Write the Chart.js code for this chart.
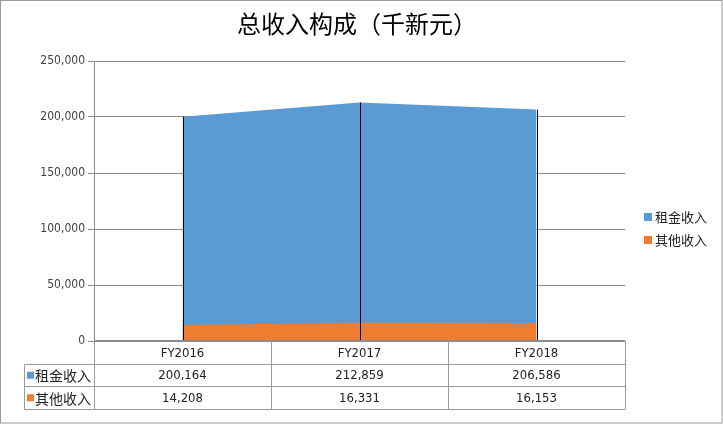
<!DOCTYPE html>
<html>
<head>
<meta charset="utf-8">
<script src="https://cdn.jsdelivr.net/npm/chart.js@4.4.1/dist/chart.umd.min.js"></script>
<style>
  html, body { margin: 0; padding: 0; background: #fff; }
  #c { display: block; }
</style>
</head>
<body>
<canvas id="c" width="723" height="424"></canvas>
<script>
// data
const years = ["FY2016", "FY2017", "FY2018"];
const rentIncome = [200164, 212859, 206586];
const otherIncome = [14208, 16331, 16153];
const seriesNames = ["租金收入", "其他收入"];
const seriesColors = ["#5B9BD5", "#ED7D31"];
const titleText = "总收入构成（千新元）";

const numFont = "'DejaVu Sans Condensed', 'Liberation Sans', sans-serif";
const cjkFont = "'Noto Sans CJK SC', sans-serif";
const fmt = v => v.toLocaleString("en-US");

// title, drop lines, legend, data table and frame
const extras = {
  id: "extras",
  afterDatasetsDraw(chart) {
    const ctx = chart.ctx, xs = chart.scales.x, ys = chart.scales.y;
    ctx.save();
    ctx.strokeStyle = "#000";
    ctx.lineWidth = 1;
    rentIncome.forEach((v, i) => {
      const px = Math.round(xs.getPixelForValue(i)) + 0.5;
      ctx.beginPath();
      ctx.moveTo(px, ys.getPixelForValue(v));
      ctx.lineTo(px, ys.getPixelForValue(0));
      ctx.stroke();
    });
    // zero line
    ctx.strokeStyle = "#8c8c8c";
    ctx.lineWidth = 2;
    ctx.beginPath();
    ctx.moveTo(chart.chartArea.left, ys.getPixelForValue(0));
    ctx.lineTo(chart.chartArea.right, ys.getPixelForValue(0));
    ctx.stroke();
    ctx.restore();
  },
  afterDraw(chart) {
    const ctx = chart.ctx, xs = chart.scales.x, ys = chart.scales.y;
    const area = chart.chartArea;
    ctx.save();

    // title
    ctx.fillStyle = "#000";
    ctx.font = "24px " + cjkFont;
    ctx.textAlign = "center";
    ctx.textBaseline = "middle";
    ctx.fillText(titleText, 357, 24);

    // legend on the right
    ctx.font = "13px " + cjkFont;
    ctx.textAlign = "left";
    seriesNames.forEach((name, k) => {
      const ly = 217 + k * 23;
      ctx.fillStyle = seriesColors[k];
      ctx.fillRect(644, ly - 4, 8, 8);
      ctx.fillStyle = "#222";
      ctx.fillText(name, 655, ly);
    });

    // data table
    const y0 = Math.round(ys.getPixelForValue(0));
    const rowH = 22.5;
    const colW = (area.right - area.left) / years.length;
    const labelLeft = 24.5;
    const rows = [rentIncome, otherIncome];
    ctx.strokeStyle = "#9a9a9a";
    ctx.lineWidth = 1;
    ctx.beginPath();
    for (let r = 1; r <= 3; r++) {
      const ly = Math.round(y0 + rowH * r) + 0.5;
      ctx.moveTo(labelLeft, ly);
      ctx.lineTo(area.right, ly);
    }
    for (let c = 0; c <= years.length; c++) {
      const lx = Math.round(area.left + c * colW) + 0.5;
      ctx.moveTo(lx, y0);
      ctx.lineTo(lx, Math.round(y0 + rowH * 3) + 0.5);
    }
    ctx.moveTo(labelLeft, Math.round(y0 + rowH) + 0.5);
    ctx.lineTo(labelLeft, Math.round(y0 + rowH * 3) + 0.5);
    ctx.stroke();

    ctx.textAlign = "center";
    ctx.textBaseline = "middle";
    ctx.fillStyle = "#222";
    ctx.font = "13px " + numFont;
    years.forEach((yr, i) => {
      ctx.fillText(yr, xs.getPixelForValue(i), y0 + rowH * 0.5 + 1);
    });
    rows.forEach((vals, r) => {
      const cy = y0 + rowH * (r + 1.5) + 1;
      ctx.font = "13px " + numFont;
      ctx.textAlign = "center";
      ctx.fillStyle = "#222";
      vals.forEach((v, i) => ctx.fillText(fmt(v), xs.getPixelForValue(i), cy));
      ctx.fillStyle = seriesColors[r];
      ctx.fillRect(27, cy - 4, 7, 7);
      ctx.fillStyle = "#222";
      ctx.font = "14px " + cjkFont;
      ctx.textAlign = "left";
      ctx.fillText(seriesNames[r], 35, cy);
    });

    // outer frame
    ctx.strokeStyle = "#9a9a9a";
    ctx.lineWidth = 1;
    ctx.strokeRect(0.5, 0.5, chart.width - 1.5, chart.height - 1.5);
    ctx.restore();
  }
};

new Chart(document.getElementById("c"), {
  type: "line",
  data: {
    labels: years,
    datasets: [
      {
        label: seriesNames[0],
        data: rentIncome,
        backgroundColor: seriesColors[0],
        borderColor: seriesColors[0],
        borderWidth: 0,
        pointRadius: 0,
        fill: "origin",
        tension: 0,
        order: 2
      },
      {
        label: seriesNames[1],
        data: otherIncome,
        backgroundColor: seriesColors[1],
        borderColor: seriesColors[1],
        borderWidth: 0,
        pointRadius: 0,
        fill: "origin",
        tension: 0,
        order: 1
      }
    ]
  },
  options: {
    responsive: false,
    animation: false,
    devicePixelRatio: 1,
    layout: { padding: { left: 24, right: 98, top: 61, bottom: 83 } },
    plugins: {
      legend: { display: false },
      title: { display: false },
      tooltip: { enabled: false }
    },
    scales: {
      x: {
        offset: true,
        grid: { display: false },
        border: { display: false },
        ticks: { display: false },
        afterFit(scale) { scale.height = 0; }
      },
      y: {
        min: 0,
        max: 250000,
        afterFit(scale) { scale.width = 70; },
        border: { display: true, color: "#8c8c8c" },
        grid: { color: "#8c8c8c", tickLength: 6, drawTicks: true },
        ticks: {
          stepSize: 50000,
          padding: 3,
          color: "#404040",
          font: { family: numFont, size: 12 },
          callback: v => fmt(v)
        }
      }
    }
  },
  plugins: [extras]
});
</script>
</body>
</html>
